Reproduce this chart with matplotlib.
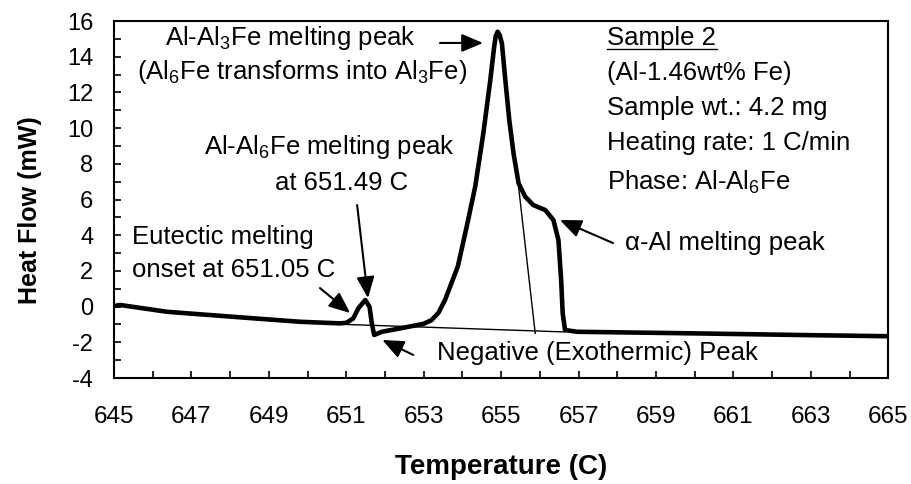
import matplotlib
matplotlib.use("Agg")
import matplotlib.pyplot as plt
from matplotlib.ticker import MultipleLocator

plt.rcParams['font.family'] = ['Liberation Sans', 'DejaVu Sans']
plt.rcParams['mathtext.fontset'] = 'custom'
plt.rcParams['mathtext.rm'] = 'Liberation Sans'
plt.rcParams['mathtext.it'] = 'Liberation Sans'
plt.rcParams['axes.unicode_minus'] = False

# DSC heating curve (Temperature C, Heat flow mW)
temperature = [645.0, 645.16, 646.37, 648.07, 649.81, 650.84, 651.01, 651.18, 651.31, 651.49,
               651.6, 651.66, 651.72, 651.92, 652.39, 652.99, 653.2, 653.38, 653.55, 653.88,
               654.11, 654.33, 654.54, 654.72, 654.82, 654.86, 654.91, 654.96, 655.02, 655.1,
               655.21, 655.32, 655.45, 655.62, 655.83, 656.14, 656.35, 656.48, 656.55, 656.59,
               656.65, 656.96, 660.0, 663.0, 665.0]
heat_flow = [0.03, 0.09, -0.29, -0.57, -0.85, -0.94, -0.9, -0.66, -0.1, 0.37,
             -0.01, -0.94, -1.59, -1.41, -1.22, -0.97, -0.76, -0.35, 0.37, 2.24,
             4.48, 6.72, 9.71, 12.69, 14.56, 15.16, 15.4, 15.22, 14.75, 12.88,
             10.45, 8.59, 6.91, 6.16, 5.69, 5.41, 4.85, 3.73, 1.49, -0.38,
             -1.31, -1.41, -1.5, -1.6, -1.66]

# construction lines (baseline and peak tangent)
baseline_t = [651.0, 656.65]
baseline_v = [-1.0, -1.42]
tangent_t = [655.45, 655.88]
tangent_v = [6.72, -1.5]

x_ticks = [645, 647, 649, 651, 653, 655, 657, 659, 661, 663, 665]
y_ticks = [-4, -2, 0, 2, 4, 6, 8, 10, 12, 14, 16]

fig = plt.figure(figsize=(9.12, 4.84), dpi=100)
ax = fig.add_axes([0.125, 0.219, 0.849, 0.7376])

ax.plot(baseline_t, baseline_v, color='black', lw=1.0)
ax.plot(tangent_t, tangent_v, color='black', lw=1.0)
ax.plot(temperature, heat_flow, color='black', lw=3.3, solid_joinstyle='round',
        solid_capstyle='round')

ax.set_xlim(645, 665)
ax.set_ylim(-4, 16)
ax.set_xticks(x_ticks)
ax.set_yticks(y_ticks)
ax.xaxis.set_minor_locator(MultipleLocator(1))
ax.yaxis.set_minor_locator(MultipleLocator(1))
ax.tick_params(which='both', direction='in', length=5, width=1.2, top=False, right=False,
               colors='black')
ax.tick_params(axis='x', pad=20, labelsize=17.5)
ax.tick_params(axis='y', pad=15, labelsize=17)
for s in ax.spines.values():
    s.set_linewidth(1.5)

ax.set_xlabel('Temperature (C)', fontsize=20, fontweight='bold', va='center')
ax.set_ylabel('Heat Flow (mW)', fontsize=18, fontweight='bold', va='center')
ax.xaxis.set_label_coords(0.5, -0.249)
ax.yaxis.set_label_coords(-0.108, 0.47)

fs = 18.5
ax.text(649.55, 15.05, 'Al-Al$_3$Fe melting peak', fontsize=fs, ha='center', va='center')
ax.text(649.86, 13.14, '(Al$_6$Fe transforms into Al$_3$Fe)', fontsize=fs, ha='center', va='center')
ax.text(650.56, 8.94, 'Al-Al$_6$Fe melting peak', fontsize=fs, ha='center', va='center')
ax.text(650.87, 6.92, 'at 651.49 C', fontsize=fs, ha='center', va='center')
ax.text(647.82, 3.90, 'Eutectic melting', fontsize=fs, ha='center', va='center')
ax.text(648.1, 2.05, 'onset at 651.05 C', fontsize=fs, ha='center', va='center')
ax.text(657.48, -2.60, 'Negative (Exothermic) Peak', fontsize=fs, ha='center', va='center')
ax.text(657.74, 15.05, 'Sample 2', fontsize=fs, ha='left', va='center')
ax.plot([657.74, 660.58], [14.41, 14.41], color='black', lw=1.0)
ax.text(657.74, 13.09, '(Al-1.46wt% Fe)', fontsize=fs, ha='left', va='center')
ax.text(657.74, 11.13, 'Sample wt.: 4.2 mg', fontsize=fs, ha='left', va='center')
ax.text(657.74, 9.17, 'Heating rate: 1 C/min', fontsize=fs, ha='left', va='center')
ax.text(657.74, 6.98, 'Phase: Al-Al$_6$Fe', fontsize=fs, ha='left', va='center')
ax.text(658.2, 3.56, 'α-Al melting peak', fontsize=fs, ha='left', va='center')

arrow = dict(arrowstyle='-|>,head_length=1.3,head_width=0.55', color='black', lw=1.5,
             shrinkA=0, shrinkB=0)
ax.annotate('', xy=(654.53, 14.77), xytext=(653.42, 14.77), arrowprops=arrow)
ax.annotate('', xy=(651.56, 0.48), xytext=(651.28, 5.69), arrowprops=arrow)
ax.annotate('', xy=(651.1, -0.36), xytext=(650.32, 1.04), arrowprops=arrow)
ax.annotate('', xy=(651.93, -1.87), xytext=(652.73, -2.71), arrowprops=arrow)
ax.annotate('', xy=(656.52, 4.85), xytext=(657.89, 3.56), arrowprops=arrow)

fig.savefig('out.png', dpi=100)
